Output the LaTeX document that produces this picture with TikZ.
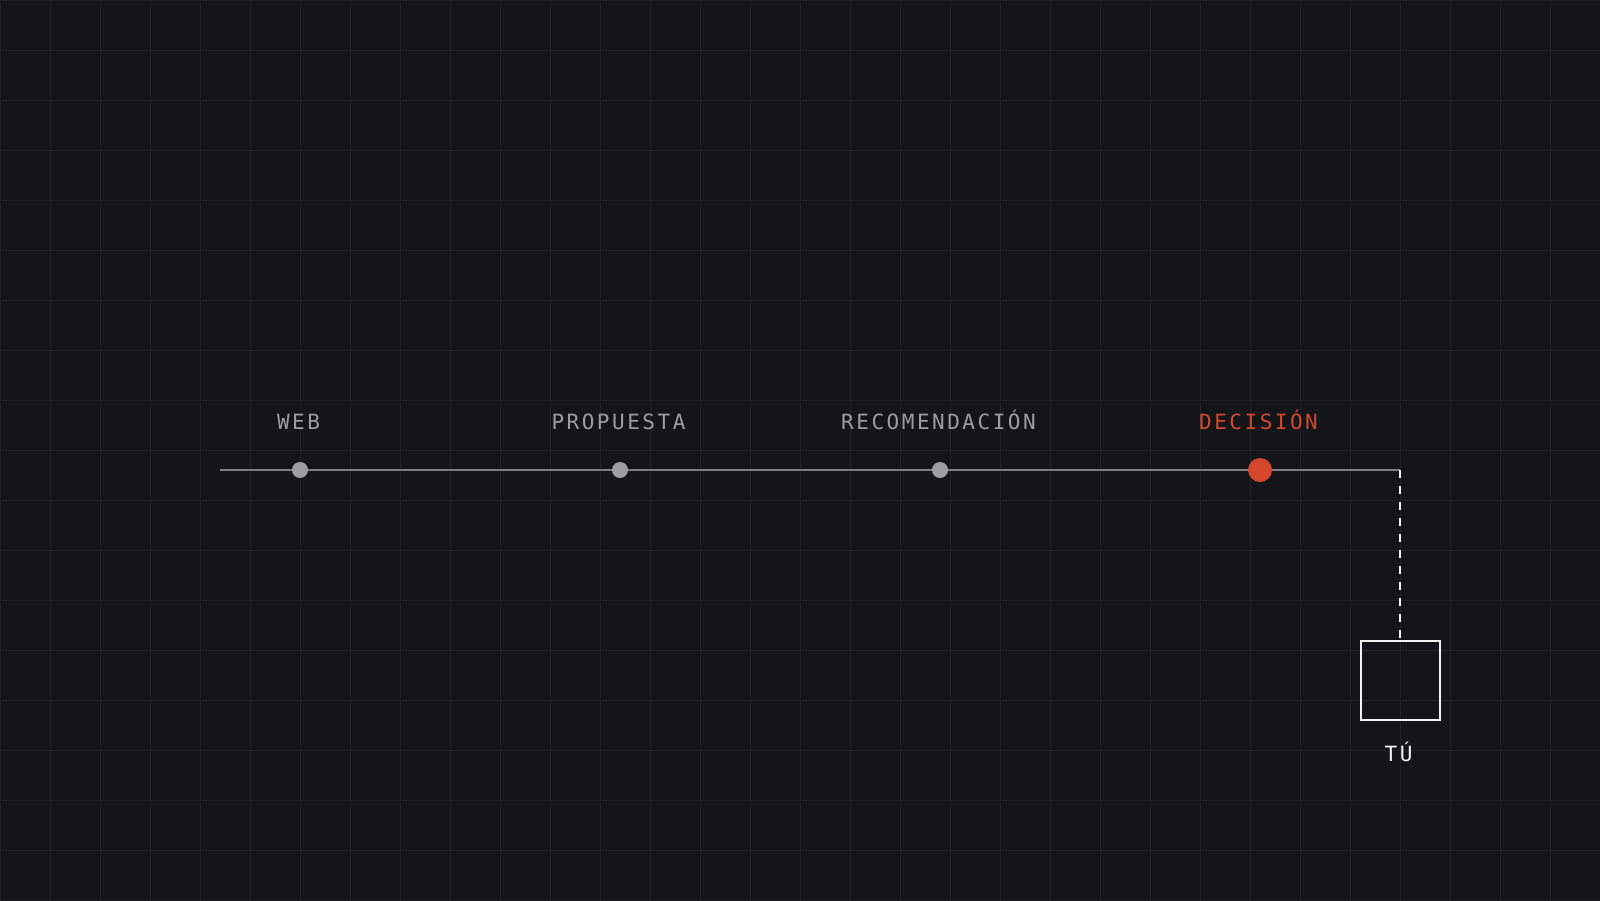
\documentclass[tikz,border=0pt]{standalone}
\usepackage{fontspec}
\newfontfamily\labelmono[LetterSpace=12]{DejaVu Sans Mono}
\definecolor{bgc}{HTML}{131519}
\definecolor{gridc}{HTML}{1E2126}
\definecolor{linec}{HTML}{7D7F84}
\definecolor{dotc}{HTML}{9B9DA1}
\definecolor{redc}{HTML}{D5472D}
\definecolor{whitec}{HTML}{F2F2F2}
\tikzset{
  stagedot/.style={circle, fill=dotc, inner sep=0pt, minimum size=16pt},
  activedot/.style={circle, fill=redc, inner sep=0pt, minimum size=24pt},
  stagelabel/.style={text=dotc, font=\labelmono\fontsize{21}{25}\selectfont, anchor=base, inner sep=0pt, xshift=-1.5pt},
  activelabel/.style={stagelabel, text=redc},
  youlabel/.style={stagelabel, text=whitec},
  youbox/.style={draw=whitec, line width=2pt, minimum size=79pt, inner sep=0pt},
  trackline/.style={draw=linec, line width=2pt},
  dropline/.style={draw=whitec, line width=2pt, dash pattern=on 8pt off 8pt},
}
\begin{document}
\begin{tikzpicture}[x=1pt,y=-1pt]
\fill[bgc] (0,0) rectangle (1600,900);
\useasboundingbox (0,0) rectangle (1600,900);
\foreach \i in {0,50,...,1600} \draw[gridc, line width=1pt] (\i,0) -- (\i,900);
\foreach \j in {0,50,...,900} \draw[gridc, line width=1pt] (0,\j) -- (1600,\j);

\coordinate (start) at (220,470);
\coordinate (corner) at (1400,470);
\node[youbox] (tu) at (1400,680) {};
\draw[trackline] (start) -- (corner);
\draw[dropline] (corner) -- (tu.north);

\node[stagedot] (web) at (300,470) {};
\node[stagedot] (prop) at (620,470) {};
\node[stagedot] (reco) at (940,470) {};
\node[activedot] (deci) at (1260,470) {};

\node[stagelabel] (lweb) at (300,429) {WEB};
\node[stagelabel] (lprop) at (620,429) {PROPUESTA};
\node[stagelabel] (lreco) at (940,429) {RECOMENDACIÓN};
\node[activelabel] (ldeci) at (1260,429) {DECISIÓN};
\node[youlabel] (ltu) at (1400,761) {TÚ};
\end{tikzpicture}
\end{document}
